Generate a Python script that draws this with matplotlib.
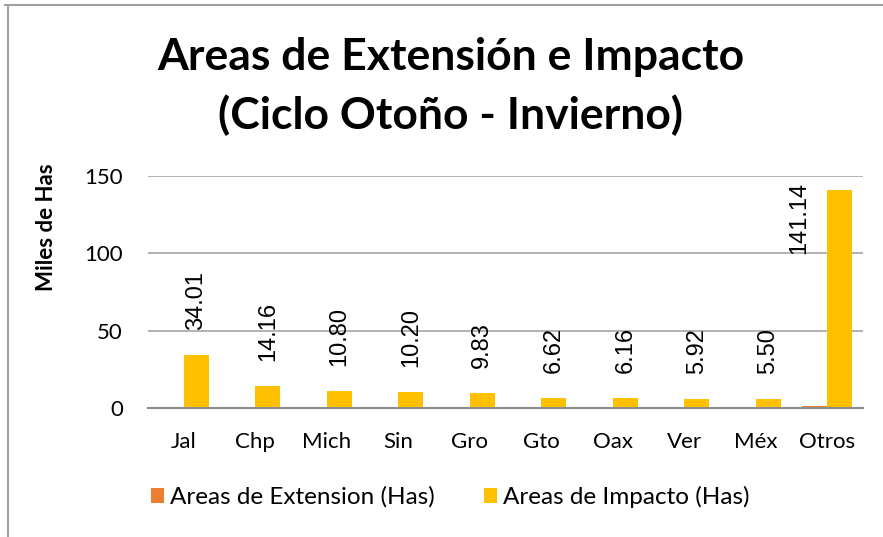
import matplotlib
matplotlib.use("Agg")
import matplotlib.pyplot as plt
import numpy as np
from matplotlib.lines import Line2D

categories = ["Jal", "Chp", "Mich", "Sin", "Gro", "Gto", "Oax", "Ver", "Méx", "Otros"]
impacto = [34.01, 14.16, 10.80, 10.20, 9.83, 6.62, 6.16, 5.92, 5.50, 141.14]
extension = [0, 0, 0, 0.25, 0, 0, 0, 0, 0, 1.2]
yticks = [0, 50, 100, 150]

FONT = "Lato"
W, H = 883, 537
fig = plt.figure(figsize=(W / 100, H / 100), dpi=100)
fig.patch.set_facecolor("white")

ax = fig.add_axes([148 / W, 1 - 408 / H, (863 - 148) / W, (408 - 176) / H])
x = np.arange(len(categories))
bw = 0.35
orange = "#ED7D31"
yellow = "#FFC000"
ax.bar(x - bw / 2, extension, bw, color=orange, label="Areas de Extension (Has)", zorder=3)
b2 = ax.bar(x + bw / 2, impacto, bw, color=yellow, label="Areas de Impacto (Has)", zorder=3)

ymax = 150
for rect, v in zip(b2, impacto):
    cx = rect.get_x() + rect.get_width() / 2
    if v > ymax * 0.75:
        # label does not fit above the bar: keep it inside the plot area, left of the bar
        ax.annotate(f"{v:.2f}", (cx, ymax), xytext=(-29, -4), textcoords="offset points",
                    rotation=90, ha="center", va="top", fontsize=17, family="Liberation Sans")
    else:
        ax.annotate(f"{v:.2f}", (cx, rect.get_height()),
                    xytext=(0, 18), textcoords="offset points", rotation=90,
                    ha="center", va="bottom", fontsize=17, family="Liberation Sans")

ax.set_xlim(-0.5, len(categories) - 0.5)
ax.set_ylim(0, ymax)
ax.set_yticks(yticks)
ax.set_xticks(x)
ax.set_xticklabels(categories, fontsize=16, family=FONT)
ax.tick_params(axis="y", labelsize=16, length=0, pad=18)
ax.tick_params(axis="x", length=0, pad=17)
for lbl in ax.get_yticklabels():
    lbl.set_family(FONT)
ax.grid(axis="y", color="#a6a6a6", linewidth=1.2, zorder=0)
for s in ["top", "right", "left"]:
    ax.spines[s].set_visible(False)
ax.spines["bottom"].set_color("#8c8c8c")
ax.spines["bottom"].set_linewidth(1.5)
ax.spines["bottom"].set_zorder(4)

ax.set_ylabel("Miles de Has", fontsize=16, fontweight="bold", family=FONT)
ax.yaxis.set_label_coords((57 - 148) / (863 - 148), (408 - 227) / (408 - 176))

fig.text(451 / W, 1 - 57 / H, "Areas de Extensión e Impacto", ha="center", va="center",
         fontsize=32, fontweight="bold", family=FONT)
fig.text(451 / W, 1 - 115 / H, "(Ciclo Otoño - Invierno)", ha="center", va="center",
         fontsize=32, fontweight="bold", family=FONT)

leg = fig.legend(loc="center left", bbox_to_anchor=(129 / W, 1 - 497 / H), ncol=2,
                 frameon=False, prop={"family": FONT, "size": 17.5},
                 handlelength=0.55, handleheight=0.55, handletextpad=0.25, columnspacing=2.0)

fig.add_artist(Line2D([5 / W, 1], [1 - 5 / H, 1 - 5 / H], color="#a0a0a0", linewidth=1.5,
                      transform=fig.transFigure))
fig.add_artist(Line2D([8 / W, 8 / W], [0, 1 - 5 / H], color="#a0a0a0", linewidth=1.5,
                      transform=fig.transFigure))

fig.savefig("out.png", dpi=100)
